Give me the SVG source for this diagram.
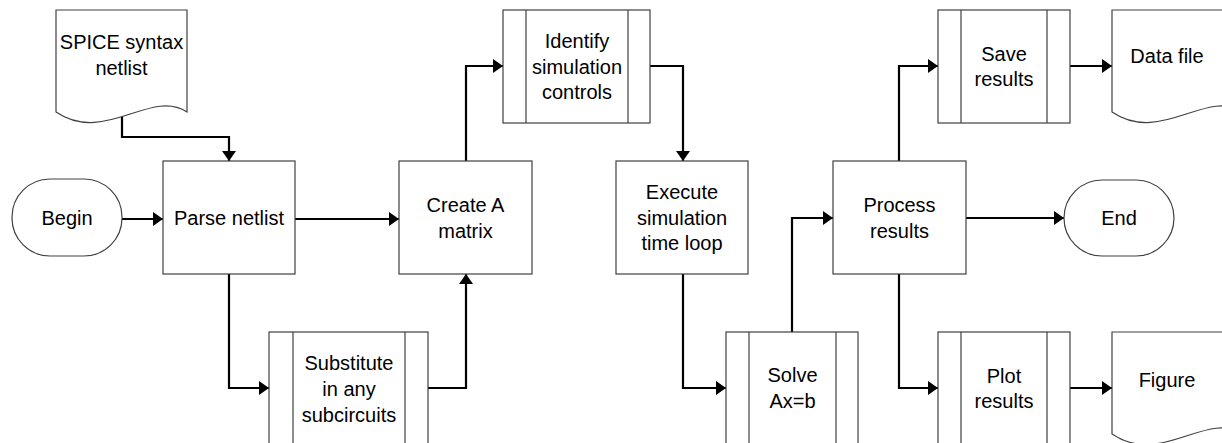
<svg xmlns="http://www.w3.org/2000/svg" width="1222" height="443" viewBox="0 0 1222 443">
<style>
.s{fill:#fff;stroke:#404040;stroke-width:1.2}
.t{font-family:"Liberation Sans",Arial,sans-serif;font-size:20px;fill:#000;text-anchor:middle}
.c{fill:none;stroke:#000;stroke-width:2.2;marker-end:url(#ah)}
</style>
<defs>
<marker id="ah" markerUnits="userSpaceOnUse" markerWidth="12" markerHeight="16" refX="10" refY="8" orient="auto">
<path d="M0,1 L10,8 L0,15 z" fill="#000"/>
</marker>
</defs>
<rect width="1222" height="443" fill="#fff"/>
<g id="connectors">
<path class="c" d="M122,113 V137 H229 V161"/>
<path class="c" d="M122,219 H163"/>
<path class="c" d="M295,219 H399"/>
<path class="c" d="M229,274 V388 H269"/>
<path class="c" d="M428,388 H466 V274"/>
<path class="c" d="M466,161 V66 H503"/>
<path class="c" d="M650,66 H683 V161"/>
<path class="c" d="M683,274 V388 H726"/>
<path class="c" d="M792,332 V218 H833"/>
<path class="c" d="M966,218 H1064"/>
<path class="c" d="M899,161 V66 H938"/>
<path class="c" d="M1070,66 H1112"/>
<path class="c" d="M899,274 V388 H938"/>
<path class="c" d="M1070,388 H1112"/>
</g>
<g id="spice">
<path class="s" d="M56,10 H187 V112 C150,88 105,145 56,112 Z"/>
<text class="t" x="121.5" y="49">SPICE syntax</text>
<text class="t" x="121.5" y="75">netlist</text>
</g>
<g id="begin">
<rect class="s" x="12" y="179" width="110" height="77" rx="38" ry="38"/>
<text class="t" x="67" y="225">Begin</text>
</g>
<g id="parse">
<rect class="s" x="163" y="161" width="132" height="113"/>
<text class="t" x="229" y="225">Parse netlist</text>
</g>
<g id="substitute">
<rect class="s" x="269" y="332" width="159" height="113"/>
<path class="s" d="M293,332 V445 M405,332 V445"/>
<text class="t" x="349" y="370">Substitute</text>
<text class="t" x="349" y="396">in any</text>
<text class="t" x="349" y="422">subcircuits</text>
</g>
<g id="create">
<rect class="s" x="399" y="161" width="133" height="113"/>
<text class="t" x="465.5" y="212">Create A</text>
<text class="t" x="465.5" y="238">matrix</text>
</g>
<g id="identify">
<rect class="s" x="503" y="10" width="147" height="113"/>
<path class="s" d="M526,10 V123 M628,10 V123"/>
<text class="t" x="577" y="48">Identify</text>
<text class="t" x="577" y="73.5">simulation</text>
<text class="t" x="577" y="99">controls</text>
</g>
<g id="execute">
<rect class="s" x="616" y="161" width="132" height="113"/>
<text class="t" x="682" y="199">Execute</text>
<text class="t" x="682" y="224.5">simulation</text>
<text class="t" x="682" y="250">time loop</text>
</g>
<g id="solve">
<rect class="s" x="726" y="332" width="132" height="113"/>
<path class="s" d="M749,332 V445 M836,332 V445"/>
<text class="t" x="792.5" y="382">Solve</text>
<text class="t" x="792.5" y="408">Ax=b</text>
</g>
<g id="process">
<rect class="s" x="833" y="161" width="133" height="113"/>
<text class="t" x="899.5" y="212">Process</text>
<text class="t" x="899.5" y="238">results</text>
</g>
<g id="end">
<rect class="s" x="1064" y="180" width="110" height="76" rx="38" ry="38"/>
<text class="t" x="1119" y="225">End</text>
</g>
<g id="save">
<rect class="s" x="938" y="10" width="132" height="113"/>
<path class="s" d="M961,10 V123 M1047,10 V123"/>
<text class="t" x="1004" y="60.5">Save</text>
<text class="t" x="1004" y="86">results</text>
</g>
<g id="datafile">
<path class="s" d="M1112,10 H1243 V112 C1206,88 1161,145 1112,112 Z"/>
<text class="t" x="1167" y="63">Data file</text>
</g>
<g id="plot">
<rect class="s" x="938" y="332" width="132" height="113"/>
<path class="s" d="M961,332 V445 M1047,332 V445"/>
<text class="t" x="1004" y="383">Plot</text>
<text class="t" x="1004" y="408">results</text>
</g>
<g id="figure">
<path class="s" d="M1112,332 H1243 V434 C1206,410 1161,467 1112,434 Z"/>
<text class="t" x="1167" y="387">Figure</text>
</g>
</svg>
